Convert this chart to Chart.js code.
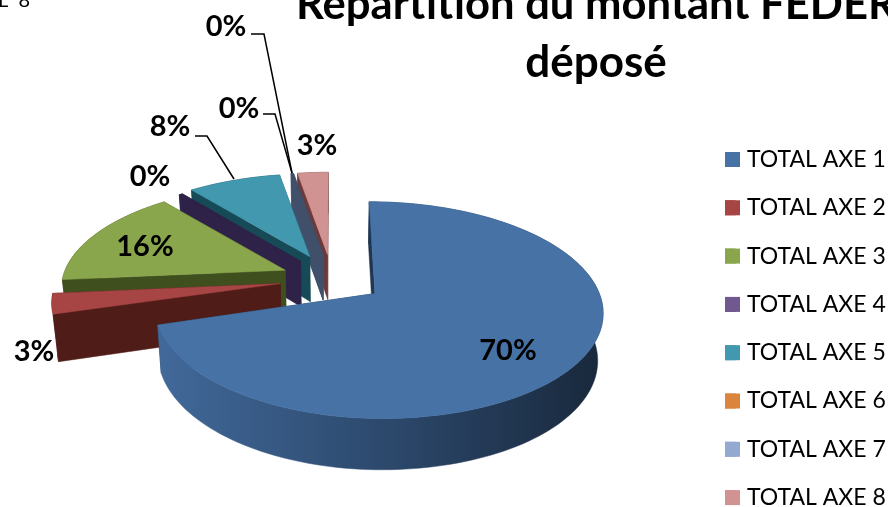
<!DOCTYPE html>
<html><head><meta charset="utf-8">
<script src="https://cdn.jsdelivr.net/npm/chart.js@4"></script>
<style>html,body{margin:0;padding:0;background:#fff;overflow:hidden}canvas{display:block}</style>
</head><body><canvas id="c" width="888" height="507"></canvas>
<script>
const categories = ['TOTAL AXE 1','TOTAL AXE 2','TOTAL AXE 3','TOTAL AXE 4','TOTAL AXE 5','TOTAL AXE 6','TOTAL AXE 7','TOTAL AXE 8'];
const values = [70.4, 3.1, 15.5, 0.3, 7.9, 0.1, 0.1, 2.6];
const topColors = ['#4672a6','#a64544','#8aa64d','#71588f','#4298af','#db843d','#93a9cf','#d19392'];
const wallColors = ['#1f3550','#4f1c18','#3f4f1e','#2f2248','#174a57','#41506a','#41506a','#6b3a3a'];
const explodes = [0.235,0.235,0.23,0.23,0.25,0.25,0.25,0.25];
const labelAnchors = [[508,351],[34,352],[145,247],[150,177],[170,127],[239,109],[226,27],[317,146]];
const leaders = [[[195,136],[207,136],[234,179]],[[263,114],[275,114],[292,173]],[[251,34],[264,34],[292,173]]];
const geo = {cx:332, cy:279, R:223, Ry:101.4, k:0.15, depth:46, blueLeft:0.96, blueRight:0.985};
const FONT = 'Lato, Carlito, sans-serif';

function proj(U, V, low){
  const d = 1 - geo.k*V;
  return [geo.cx + geo.R*U/d*(low?0.98:1), geo.cy + geo.Ry*V/d + (low?geo.depth*(1+0.1*V):0)];
}
function poly(ctx, pts, fill){
  ctx.beginPath();
  pts.forEach((p,i)=> i?ctx.lineTo(p[0],p[1]):ctx.moveTo(p[0],p[1]));
  ctx.closePath();
  ctx.fillStyle = fill; ctx.fill();
  ctx.strokeStyle = fill; ctx.lineWidth = 0.5; ctx.stroke();
}
const pie3d = {
  id:'pie3d',
  afterLayout(chart){
    const t = chart.titleBlock; t.left = 296; t.right = 896; t.top = -24.5; t.bottom = 90;
    const l = chart.legend; l.left = 725-25.3; l.right = 888; l.top = 122.7; l.bottom = 900;
  },
  beforeDatasetsDraw(chart){
    const ctx = chart.ctx, arcs = chart.getDatasetMeta(0).data;
    for (let i = arcs.length-1; i>=0; i--){
      const a0 = arcs[i].startAngle + Math.PI/2, a1 = arcs[i].endAngle + Math.PI/2;
      const e = explodes[i], mid = (a0+a1)/2, ou = e*Math.sin(mid), ov = -e*Math.cos(mid);
      const rim = [];
      const n = Math.max(2, Math.ceil((a1-a0)/0.03));
      for (let j=0;j<=n;j++){
        const th=a0+(a1-a0)*j/n; let u=Math.sin(th);
        if (i===0) u *= u<0 ? geo.blueLeft : geo.blueRight;
        rim.push([ou+u, ov-Math.cos(th)]);
      }
      const T = p=>proj(p[0],p[1],false), B = p=>proj(p[0],p[1],true), apex=[ou,ov];
      const first=rim[0], last=rim[rim.length-1];
      poly(ctx,[T(apex),T(last),B(last),B(apex)],wallColors[i]);
      let side = wallColors[i];
      if (i===0){
        side = ctx.createLinearGradient(157,0,597,0);
        side.addColorStop(0,'#41699a'); side.addColorStop(0.5,'#2d4a6e'); side.addColorStop(1,'#19293d');
      }
      poly(ctx,rim.map(T).concat(rim.slice().reverse().map(B)),side);
      poly(ctx,[T(apex),T(first),B(first),B(apex)],wallColors[i]);
      poly(ctx,[T(apex)].concat(rim.map(T)), values[i]<0.5 ? wallColors[i] : topColors[i]);
    }
    return false;
  },
  afterDraw(chart){
    const ctx = chart.ctx, total = values.reduce((a,b)=>a+b,0);
    ctx.save();
    ctx.fillStyle='#000'; ctx.font='20px '+FONT; ctx.textAlign='left'; ctx.textBaseline='alphabetic';
    ctx.fillText('L  8',-2,7);
    ctx.strokeStyle='#000'; ctx.lineWidth=1.5;
    leaders.forEach(l=>{ctx.beginPath();l.forEach((p,i)=>i?ctx.lineTo(p[0],p[1]):ctx.moveTo(p[0],p[1]));ctx.stroke();});
    ctx.fillStyle='#000'; ctx.font='bold 29px '+FONT; ctx.textAlign='center'; ctx.textBaseline='middle';
    values.forEach((v,i)=>ctx.fillText(Math.round(v/total*100)+'%',labelAnchors[i][0],labelAnchors[i][1]));
    categories.forEach((c,i)=>{ ctx.fillStyle=topColors[i]; ctx.fillRect(725,152+i*48.3,15,15); });
    ctx.restore();
  }
};
new Chart(document.getElementById('c'),{
  type:'pie',
  data:{labels:categories,datasets:[{data:values,backgroundColor:topColors,borderWidth:0}]},
  plugins:[pie3d],
  options:{
    responsive:false,animation:false,
    layout:{padding:0},
    plugins:{
      tooltip:{enabled:false},
      title:{display:true,text:['Répartition du montant FEDER','déposé'],color:'#000',
        font:{family:FONT,weight:'bold',size:44,lineHeight:1.32},padding:0},
      legend:{position:'right',align:'start',
        labels:{boxWidth:10.5,boxHeight:15,padding:25.3,color:'#000',font:{family:FONT,size:23}}}
    }
  }
});
</script></body></html>
